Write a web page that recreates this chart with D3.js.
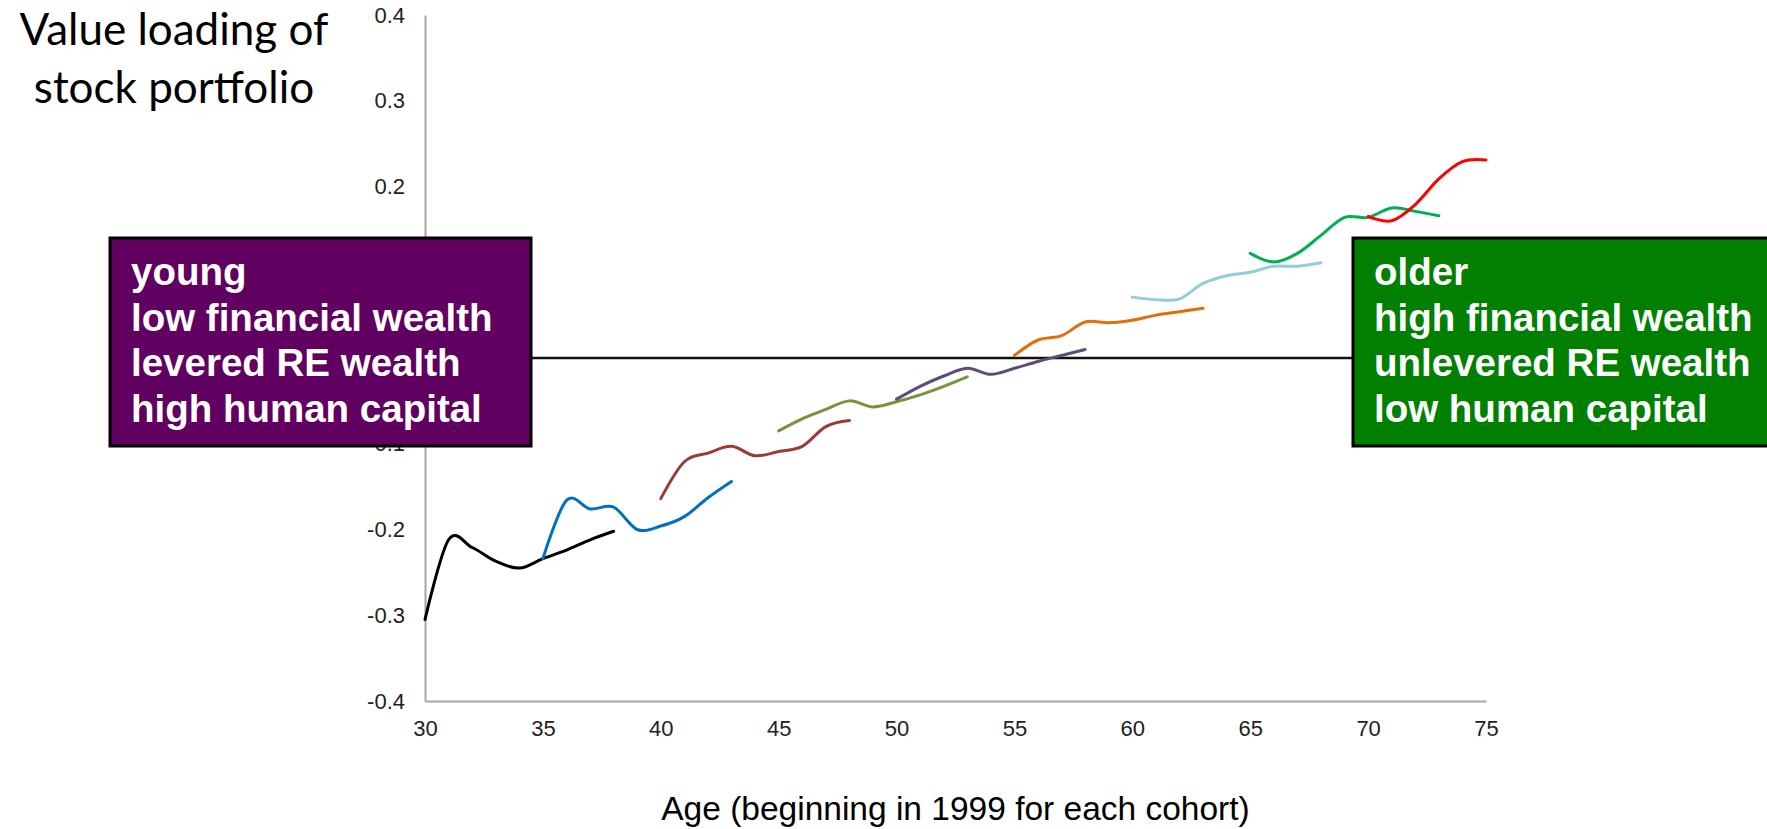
<!DOCTYPE html>
<html>
<head>
<meta charset="utf-8">
<script src="https://cdn.jsdelivr.net/npm/d3@7"></script>
<style>
    body { margin: 0; background: #ffffff; }
    svg { display: block; }
</style>
</head>
<body>
<svg id="cohort-graph"></svg>
<script>

// DATA
let xTicks = [30, 35, 40, 45, 50, 55, 60, 65, 70, 75]
let yTicks = [-0.4, -0.3, -0.2, -0.1, 0.0, 0.1, 0.2, 0.3, 0.4]

let cohortStarts = [30, 35, 40, 45, 50, 55, 60, 65, 70]

let cohort30 = [-0.305, -0.212, -0.221, -0.237, -0.245, -0.234, -0.224, -0.212, -0.202]
let cohort35 = [-0.234, -0.166, -0.176, -0.174, -0.200, -0.196, -0.185, -0.163, -0.144]
let cohort40 = [-0.164, -0.121, -0.111, -0.103, -0.114, -0.109, -0.103, -0.080, -0.073]
let cohort45 = [-0.085, -0.071, -0.060, -0.050, -0.057, -0.051, -0.043, -0.033, -0.022]
let cohort50 = [-0.048, -0.033, -0.021, -0.012, -0.019, -0.012, -0.004, 0.003, 0.010]
let cohort55 = [0.003, 0.021, 0.026, 0.042, 0.041, 0.044, 0.050, 0.054, 0.058]
let cohort60 = [0.071, 0.068, 0.069, 0.087, 0.096, 0.100, 0.107, 0.107, 0.111]
let cohort65 = [0.122, 0.112, 0.122, 0.143, 0.164, 0.164, 0.175, 0.171, 0.166]
let cohort70 = [0.165, 0.160, 0.179, 0.209, 0.229, 0.231]

let youngLines = ["young", "low financial wealth", "levered RE wealth", "high human capital"]
let olderLines = ["older", "high financial wealth", "unlevered RE wealth", "low human capital"]

let cohortValues = [cohort30, cohort35, cohort40, cohort45, cohort50, cohort55, cohort60, cohort65, cohort70]

// STYLES
let lineColors = ['#000000', '#0070c0', '#9a3b38', '#77933c', '#604a7b', '#e46c0a', '#93cddd', '#00b050', '#ff0000']

let svgWidth = 1767
let svgHeight = 829

let x = d3.scaleLinear().domain([30, 75]).range([425, 1486])
let y = d3.scaleLinear().domain([-0.4, 0.4]).range([701, 15])

let chart = d3
    .select('#cohort-graph')
    .attr('width', svgWidth)
    .attr('height', svgHeight)

chart.append('rect')
    .attr('width', svgWidth)
    .attr('height', svgHeight)
    .attr('fill', '#ffffff')

// Y AXIS
let yAxis = chart
    .append('g')
    .attr('transform', `translate(${x(30)},0)`)
    .call(d3.axisLeft(y).tickValues(yTicks).tickSize(0).tickPadding(20).tickFormat(d => d.toFixed(1)))
    .attr('font-family', 'Liberation Sans, Arial, sans-serif')
    .attr('font-size', 22)

yAxis.select('.domain').attr('stroke', '#a6a6a6').attr('stroke-width', 2)
yAxis.selectAll('text').attr('fill', '#222222')

// X AXIS
let xAxis = chart
    .append('g')
    .attr('transform', `translate(0,${y(-0.4)})`)
    .call(d3.axisBottom(x).tickValues(xTicks).tickSize(0).tickPadding(19).tickFormat(d => d))
    .attr('font-family', 'Liberation Sans, Arial, sans-serif')
    .attr('font-size', 22)

xAxis.select('.domain').attr('stroke', '#a6a6a6').attr('stroke-width', 2)
xAxis.selectAll('text').attr('fill', '#222222')

// ZERO LINE
chart.append('line')
    .attr('x1', x(30))
    .attr('x2', x(75))
    .attr('y1', y(0))
    .attr('y2', y(0))
    .attr('stroke', '#111111')
    .attr('stroke-width', 2.5)

// COHORT LINES
let line = d3.line()
    .x(d => x(d.age))
    .y(d => y(d.value))
    .curve(d3.curveCardinal.tension(0))

cohortStarts.forEach((start, i) => {
    let points = cohortValues[i].map((v, j) => ({age: start + j, value: v}))
    chart.append('path')
        .datum(points)
        .attr('fill', 'none')
        .attr('stroke', lineColors[i])
        .attr('stroke-width', 3)
        .attr('stroke-linejoin', 'round')
        .attr('stroke-linecap', 'round')
        .attr('d', line)
})

// AXIS TITLES
chart.append('text')
    .attr('x', (x(30) + x(75)) / 2)
    .attr('y', 820)
    .attr('text-anchor', 'middle')
    .attr('font-family', 'Liberation Sans, Arial, sans-serif')
    .attr('font-size', 33.5)
    .attr('fill', '#000000')
    .text('Age (beginning in 1999 for each cohort)')

let title = chart.append('text')
    .attr('text-anchor', 'middle')
    .attr('font-family', 'Lato, Open Sans, sans-serif')
    .attr('font-size', 44)
    .attr('fill', '#000000')

title.append('tspan').attr('x', 174).attr('y', 45).text('Value loading of')
title.append('tspan').attr('x', 174).attr('y', 103).text('stock portfolio')

// TEXT BOXES
function textBox(left, width, fill, lines) {
    let g = chart.append('g')
    g.append('rect')
        .attr('x', left)
        .attr('y', 238)
        .attr('width', width)
        .attr('height', 208)
        .attr('fill', fill)
        .attr('stroke', '#000000')
        .attr('stroke-width', 3)
    g.append('text')
        .attr('font-family', 'Liberation Sans, Arial, sans-serif')
        .attr('font-weight', 'bold')
        .attr('font-size', 38.5)
        .attr('fill', '#ffffff')
        .selectAll('tspan')
        .data(lines)
        .enter()
        .append('tspan')
            .attr('x', left + 21)
            .attr('y', (d, i) => 285 + i * 45.6)
            .text(d => d)
}

textBox(110, 421, '#600060', youngLines)
textBox(1353, 430, '#007f00', olderLines)

</script>
</body>
</html>
